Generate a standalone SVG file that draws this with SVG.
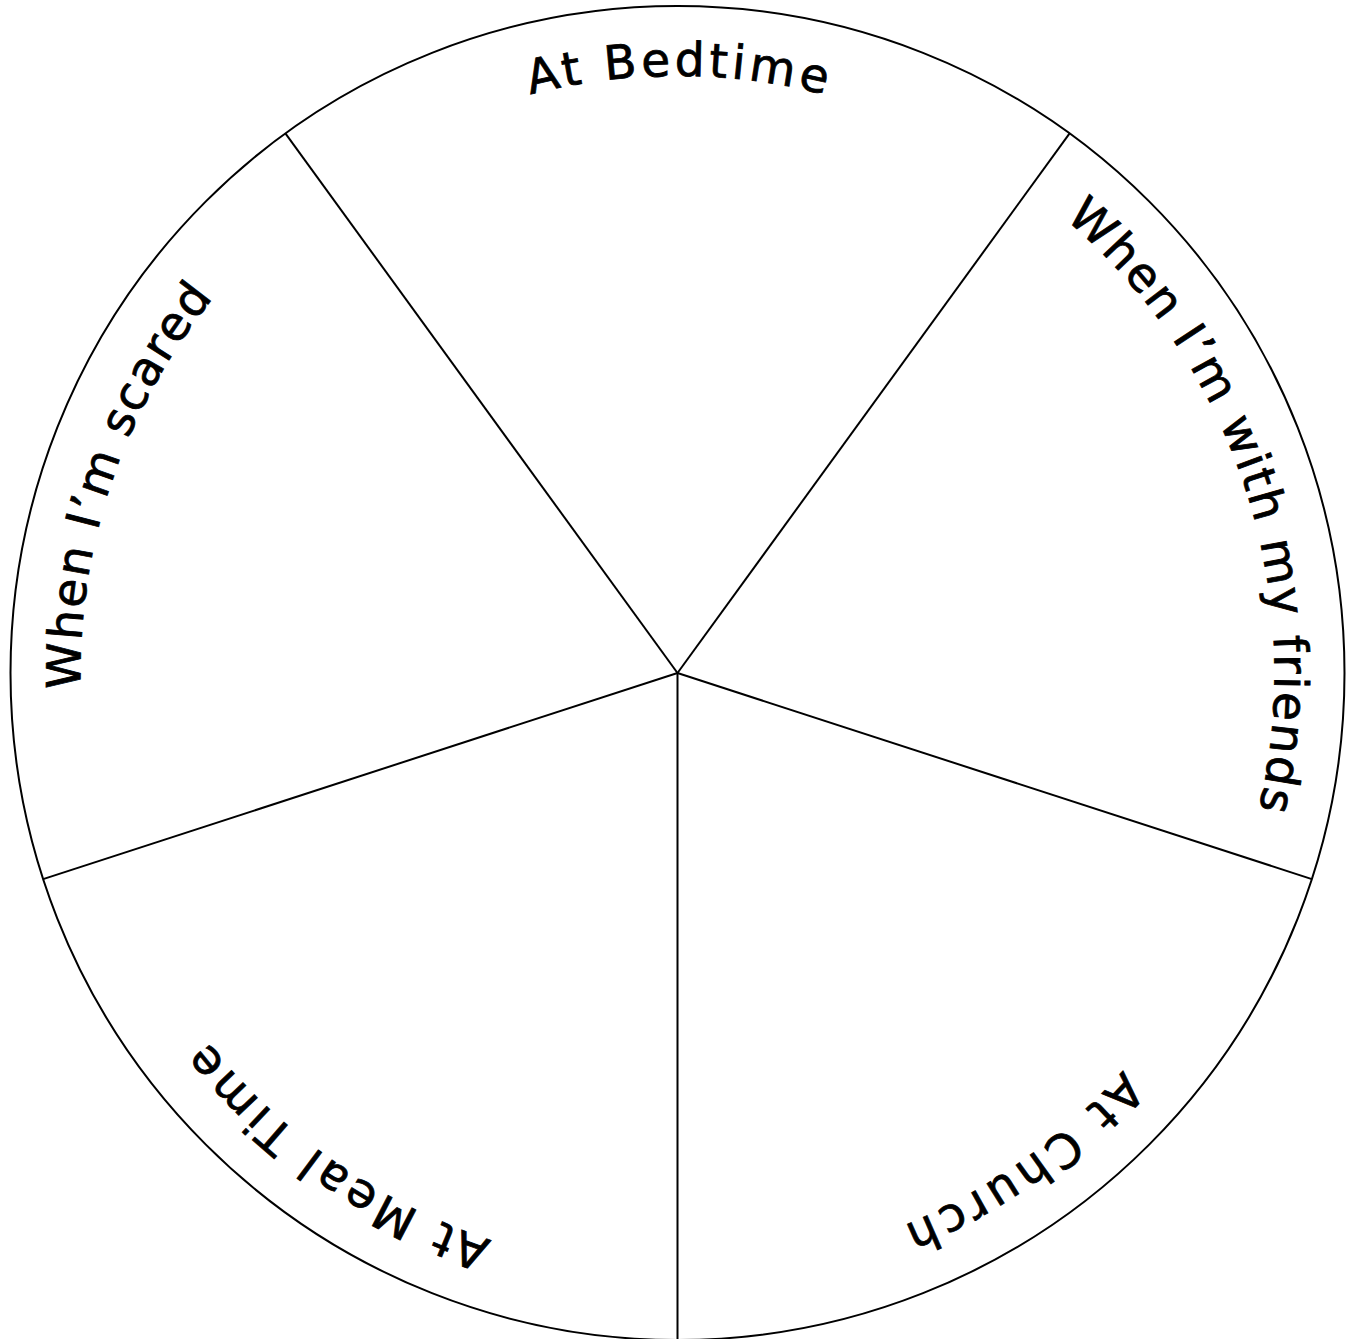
<svg xmlns="http://www.w3.org/2000/svg" xmlns:xlink="http://www.w3.org/1999/xlink" width="1353" height="1339" viewBox="0 0 1353 1339">
  <style>
    .rim { fill: #ffffff; stroke: #000000; stroke-width: 2; }
    .spoke { stroke: #000000; stroke-width: 2; fill: none; }
    .lbl { font-family: "DejaVu Sans", "Liberation Sans", sans-serif; font-size: 47px; fill: #000000; stroke: #000000; stroke-width: 0.8; text-anchor: middle; }
  </style>
  <defs>
    <path id="ring" d="M 677.5 1270 A 597 597 0 1 1 677.5 76 A 597 597 0 1 1 677.5 1270"/>
  </defs>
  <rect x="0" y="0" width="1353" height="1339" fill="#ffffff"/>
  <g id="wheel">
    <circle class="rim" cx="677.5" cy="673" r="667"/>
  </g>
  <g id="connectors">
    <line class="spoke" x1="677.5" y1="673" x2="285.4" y2="133.4"/>
    <line class="spoke" x1="677.5" y1="673" x2="1069.6" y2="133.4"/>
    <line class="spoke" x1="677.5" y1="673" x2="1311.9" y2="879.1"/>
    <line class="spoke" x1="677.5" y1="673" x2="677.5" y2="1342"/>
    <line class="spoke" x1="677.5" y1="673" x2="43.1" y2="879.1"/>
  </g>
  <g id="sector-bedtime">
    <text class="lbl"><textPath xlink:href="#ring" href="#ring" startOffset="1875.5" textLength="298" lengthAdjust="spacing">At Bedtime</textPath></text>
  </g>
  <g id="sector-friends">
    <text class="lbl"><textPath xlink:href="#ring" href="#ring" startOffset="2623.7" textLength="654" lengthAdjust="spacing">When I’m with my friends</textPath></text>
  </g>
  <g id="sector-church">
    <text class="lbl"><textPath xlink:href="#ring" href="#ring" startOffset="3383.2" textLength="271" lengthAdjust="spacing">At Church</textPath></text>
  </g>
  <g id="sector-mealtime">
    <text class="lbl"><textPath xlink:href="#ring" href="#ring" startOffset="364.7" textLength="351" lengthAdjust="spacing">At Meal Time</textPath></text>
  </g>
  <g id="sector-scared">
    <text class="lbl"><textPath xlink:href="#ring" href="#ring" startOffset="1132.6" textLength="422" lengthAdjust="spacing">When I’m scared</textPath></text>
  </g>
</svg>
